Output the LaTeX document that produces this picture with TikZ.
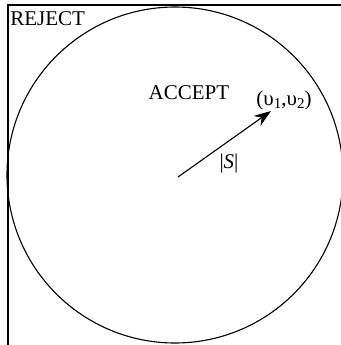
\documentclass[tikz,border=0pt]{standalone}
\usepackage{fontspec}
\setmainfont{Liberation Serif}
\usetikzlibrary{arrows.meta}
\tikzset{
  lbl/.style={inner sep=0pt, font=\fontsize{10.5}{12}\selectfont},
  edge/.style={line width=0.55pt},
}
\begin{document}
\begin{tikzpicture}[x=0.5pt,y=-0.5pt]
\useasboundingbox (0,0) rectangle (341,345);
% partial frame (left and top)
\draw[edge] (8,345) -- (8,5) -- (341,5);
% circle
\coordinate (c) at (175,175);
\draw[edge] (c) circle[radius=84pt];
% arrow
\coordinate (p) at (271,111);
\draw[edge,-{Stealth[length=8.5pt,width=6pt]}] (178,177) -- (p);
% labels
\node[lbl,anchor=west] (rej) at (10,19) {REJECT};
\node[lbl] (acc) at (189,93) {ACCEPT};
\node[lbl] (pt) at (284,100) {(υ\raisebox{-0.35ex}{\fontsize{7.5}{8}\selectfont 1},υ\raisebox{-0.35ex}{\fontsize{7.5}{8}\selectfont 2})};
\node[lbl] (s) at (229,163) {|\textit{S}|};
\end{tikzpicture}
\end{document}
